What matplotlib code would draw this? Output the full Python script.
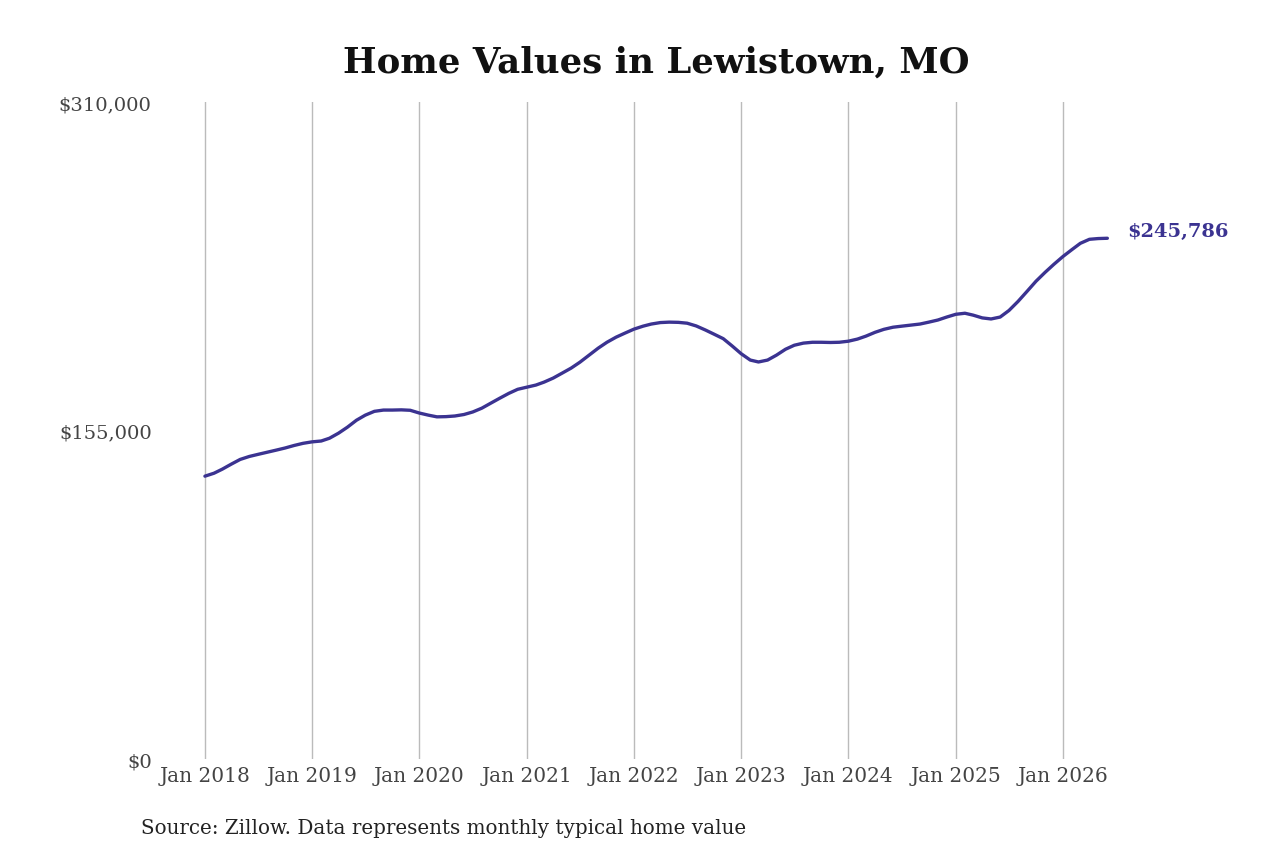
import numpy as np
import pandas as pd
import matplotlib
matplotlib.use("Agg")
import matplotlib.pyplot as plt
import matplotlib.dates as mdates

# monthly typical home value, Jan 2018 - Jun 2026
values = [
    133500, 134900, 136800, 139200, 141400, 142800, 143800, 144800, 145800, 146800, 148000, 149000,
    149700, 150100, 151400, 153800, 156600, 159900, 162300, 164100, 164700, 164700, 164800, 164600,
    163300, 162300, 161500, 161600, 161900, 162600, 163800, 165600, 168000, 170300, 172600, 174500,
    175500, 176500, 177900, 179800, 182100, 184500, 187300, 190600, 193900, 196700, 199100, 201000,
    202900, 204300, 205300, 206000, 206200, 206100, 205700, 204400, 202500, 200500, 198400, 195000,
    191300, 188300, 187400, 188300, 190600, 193400, 195300, 196300, 196700, 196700, 196600, 196700,
    197200, 198200, 199600, 201400, 202800, 203800, 204300, 204800, 205300, 206200, 207200, 208600,
    209900, 210400, 209500, 208200, 207700, 208600, 211700, 216000, 220800, 225500, 229700, 233500,
    237200, 240500, 243400, 245300, 245650, 245786,
]
dates = pd.date_range("2018-01-01", periods=len(values), freq="MS")
year_ticks = pd.date_range("2018-01-01", "2026-01-01", freq="YS")
tick_labels = [f"Jan {d.year}" for d in year_ticks]
y_ticks = [0, 155000, 310000]
y_labels = ["$0", "$155,000", "$310,000"]

line_color = "#3b3391"
plt.rcParams["font.family"] = ["DejaVu Serif"]

fig = plt.figure(figsize=(12.8, 8.53), dpi=100)
ax = fig.add_axes([0.125, 0.109, 0.747, 0.770])

ax.plot(dates, values, color=line_color, linewidth=2.4, solid_capstyle="round")

ax.set_xlim(pd.Timestamp("2017-08-01"), pd.Timestamp("2026-07-01"))
ax.set_ylim(0, 310000)
ax.set_xticks(year_ticks)
ax.set_xticklabels(tick_labels)
ax.set_yticks(y_ticks)
ax.set_yticklabels(y_labels)
ax.tick_params(axis="both", length=0, labelcolor="#444444")
ax.tick_params(axis="x", pad=5, labelsize=14.5)
ax.tick_params(axis="y", pad=6, labelsize=14)
ax.grid(axis="x", color="#bbbbbb", linewidth=1)
ax.grid(axis="y", visible=False)
for s in ax.spines.values():
    s.set_visible(False)

ax.annotate(f"${values[-1]:,}", xy=(dates[-1], values[-1]), xytext=(14, 5),
            textcoords="offset points", color=line_color, fontsize=14,
            fontweight="bold", va="center", ha="left")

fig.text(0.5125, 0.927, "Home Values in Lewistown, MO", ha="center", va="center",
         fontsize=25.6, fontweight="bold", color="#111111")
fig.text(0.110, 0.029, "Source: Zillow. Data represents monthly typical home value",
         ha="left", va="center", fontsize=14.3, color="#222222")

fig.savefig("out.png", dpi=100, facecolor="white")
